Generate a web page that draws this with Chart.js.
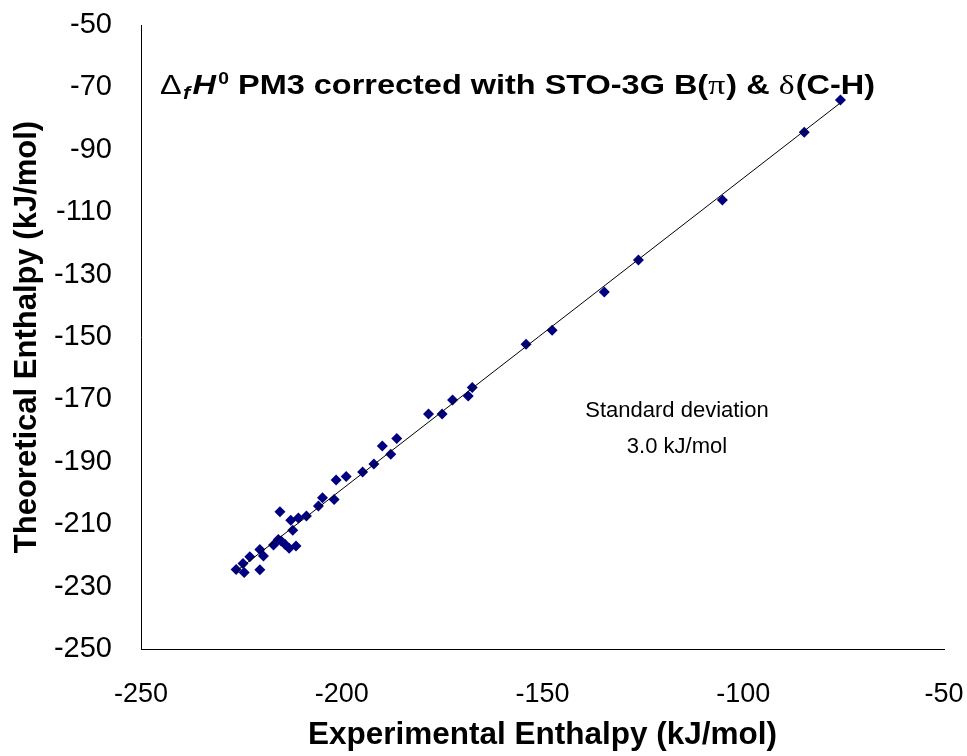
<!DOCTYPE html>
<html>
<head>
<meta charset="utf-8">
<script src="https://cdn.jsdelivr.net/npm/chart.js@4.4.1/dist/chart.umd.min.js"></script>
<style>
  html, body { margin: 0; padding: 0; background: #fff; }
  #wrap { width: 967px; height: 756px; position: relative; }
</style>
</head>
<body>
<div id="wrap"><canvas id="chart" width="967" height="756"></canvas></div>
<script>
// values (kJ/mol)
const experimental = [
  -75.8, -84.8, -105.2, -126.1, -134.6, -147.6, -154.1, -167.5, -168.5, -172.4,
  -175.0, -178.4, -186.3, -189.9, -187.8, -192.0, -194.8, -198.9, -201.4, -204.8,
  -201.9, -205.8, -208.8, -210.8, -212.7, -215.4, -212.2, -215.8, -217.0, -214.1,
  -213.1, -211.4, -220.4, -219.5, -222.9, -224.6, -226.3, -224.3, -220.4, -215.1
];
const theoretical = [
  -74.0, -84.4, -106.1, -125.3, -135.6, -147.8, -152.3, -166.2, -168.9, -170.2,
  -174.7, -174.7, -182.5, -184.9, -187.6, -190.7, -193.3, -194.7, -195.8, -201.5,
  -202.1, -204.2, -207.4, -208.0, -208.7, -206.0, -211.9, -214.9, -216.7, -216.5,
  -217.7, -217.0, -218.1, -220.2, -220.4, -222.6, -224.5, -225.5, -224.6, -215.4
];
const xTicks = [-250, -200, -150, -100, -50];
const yTicks = [-250, -230, -210, -190, -170, -150, -130, -110, -90, -70, -50];
const stdDevText = ["Standard deviation", "3.0 kJ/mol"];

const points = experimental.map((x, i) => ({ x: x, y: theoretical[i] }));

// least squares trend line over the data range
const n = experimental.length;
const mx = experimental.reduce((a, b) => a + b, 0) / n;
const my = theoretical.reduce((a, b) => a + b, 0) / n;
let sxy = 0, sxx = 0;
for (let i = 0; i < n; i++) {
  sxy += (experimental[i] - mx) * (theoretical[i] - my);
  sxx += (experimental[i] - mx) ** 2;
}
const slope = sxy / sxx;
const icpt = my - slope * mx;
const xLo = Math.min(...experimental), xHi = Math.max(...experimental);
const trend = [{ x: xLo, y: icpt + slope * xLo }, { x: xHi, y: icpt + slope * xHi }];

// rich title + std deviation note drawn on top of the plot
const notes = {
  id: "notes",
  afterDraw(chart) {
    const ctx = chart.ctx;
    ctx.save();
    ctx.fillStyle = "#000";
    ctx.textBaseline = "alphabetic";
    ctx.textAlign = "left";
    const bold = "bold 27px 'Liberation Sans', Arial, sans-serif";
    const sym = "28px 'Liberation Serif', serif";
    const segs = [
      { t: "\u0394", f: "27px 'Liberation Sans', Arial", dy: 0, gap: 1 },
      { t: "f", f: "italic bold 18px 'Liberation Sans', Arial", dy: 5, gap: 2 },
      { t: "H", f: "italic bold 27px 'Liberation Sans', Arial", dy: 0, gap: 2 },
      { t: "0", f: "bold 16px 'Liberation Sans', Arial", dy: -10, gap: 0 },
      { t: " PM3 corrected with STO-3G B(", f: bold, dy: 0, gap: 0 },
      { t: "\u03c0", f: sym, dy: 0, gap: 1 },
      { t: ") & ", f: bold, dy: 0, gap: 0 },
      { t: "\u03b4", f: sym, dy: 0, gap: 1 },
      { t: "(C-H)", f: bold, dy: 0, gap: 0 }
    ];
    let total = 0;
    segs.forEach(s => { ctx.font = s.f; s.w = ctx.measureText(s.t).width; total += s.w + s.gap; });
    const left = 160, width = 715, base = 94;
    const sx = width / total;
    ctx.translate(left, 0);
    ctx.scale(sx, 1);
    let x = 0;
    segs.forEach(s => {
      ctx.font = s.f;
      ctx.fillText(s.t, x, base + s.dy);
      x += s.w + s.gap;
    });
    ctx.setTransform(1, 0, 0, 1, 0, 0);

    ctx.textAlign = "center";
    ctx.textBaseline = "middle";
    ctx.font = "22px 'Liberation Sans', Arial, sans-serif";
    ctx.fillText(stdDevText[0], 677, 411);
    ctx.fillText(stdDevText[1], 677, 447);
    ctx.restore();
  }
};

new Chart(document.getElementById("chart"), {
  type: "scatter",
  data: {
    datasets: [
      {
        label: "trend",
        type: "line",
        data: trend,
        borderColor: "#000",
        borderWidth: 1,
        pointRadius: 0,
        fill: false
      },
      {
        label: "data",
        data: points,
        pointStyle: "rectRot",
        pointRadius: 5.5,
        backgroundColor: "#000080",
        borderColor: "#000080",
        borderWidth: 0
      }
    ]
  },
  options: {
    responsive: false,
    animation: false,
    events: [],
    layout: { padding: { top: 25, right: 23, left: 0, bottom: 0 } },
    plugins: { legend: { display: false }, tooltip: { enabled: false } },
    scales: {
      x: {
        type: "linear",
        min: -250, max: -50,
        afterBuildTicks: s => { s.ticks = xTicks.map(v => ({ value: v })); },
        afterFit: s => { s.height = 107; s.paddingLeft = 0; s.paddingRight = 0; },
        grid: { display: false, drawTicks: false },
        border: { display: true, color: "#000", width: 1 },
        ticks: {
          padding: 29,
          color: "#000",
          maxRotation: 0,
          font: { family: "'Liberation Sans', Arial", size: 27 }
        },
        title: {
          display: true,
          text: "Experimental Enthalpy (kJ/mol)",
          color: "#000",
          padding: { top: 0, bottom: 2 },
          font: { family: "'Liberation Sans', Arial", size: 31.5, weight: "bold" }
        }
      },
      y: {
        type: "linear",
        min: -250, max: -50,
        afterBuildTicks: s => { s.ticks = yTicks.map(v => ({ value: v })); },
        afterFit: s => { s.width = 141; s.paddingTop = 0; s.paddingBottom = 0; },
        grid: { display: false, drawTicks: false },
        border: { display: true, color: "#000", width: 1 },
        ticks: {
          padding: 29,
          color: "#000",
          font: { family: "'Liberation Sans', Arial", size: 29 }
        },
        title: {
          display: true,
          text: "Theoretical Enthalpy (kJ/mol)",
          color: "#000",
          padding: { top: 9, bottom: 0 },
          font: { family: "'Liberation Sans', Arial", size: 31, weight: "bold" }
        }
      }
    }
  },
  plugins: [notes]
});
</script>
</body>
</html>
